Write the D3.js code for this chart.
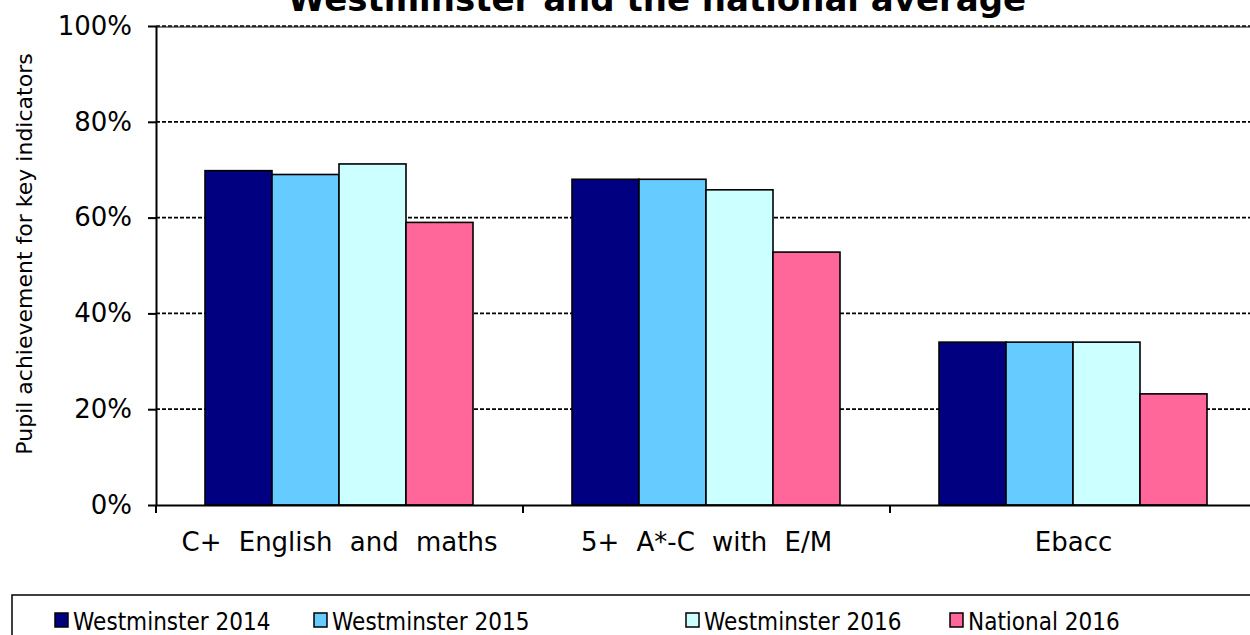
<!DOCTYPE html>
<html>
<head>
<meta charset="utf-8">
<script src="https://cdn.jsdelivr.net/npm/d3@7"></script>
<style>
  body { margin: 0; background: #fff; }
  svg { display: block; font-family: "DejaVu Sans", Verdana, sans-serif; }
</style>
</head>
<body>
<div id="chart"></div>
<script>
var categories = ["C+ English and maths", "5+ A*-C with E/M", "Ebacc"];
var seriesNames = ["Westminster 2014", "Westminster 2015", "Westminster 2016", "National 2016"];
var seriesColors = ["#000080", "#66ccff", "#ccffff", "#ff6699"];
var westminster2014 = [69.8, 68, 34];
var westminster2015 = [69, 68, 34];
var westminster2016 = [71.2, 65.8, 34];
var national2016 = [59, 52.8, 23.2];
var yTicks = [0, 20, 40, 60, 80, 100];

var series = [westminster2014, westminster2015, westminster2016, national2016];

var W = 1250, H = 635;
var margin = {top: 26, left: 156},
    plotW = 367 * 3,
    plotH = 479;

var svg = d3.select("#chart").append("svg")
    .attr("width", W)
    .attr("height", H);

var g = svg.append("g")
    .attr("transform", "translate(" + margin.left + "," + margin.top + ")");

var x0 = d3.scaleBand().domain(categories).range([0, plotW]).padding(0);
var x1 = d3.scaleBand().domain(d3.range(series.length))
    .range([49, x0.bandwidth() - 50]).padding(0);
var y = d3.scaleLinear().domain([0, 100]).range([plotH, 0]);

// title, cut at the top edge like the original
svg.append("text")
    .attr("x", 657)
    .attr("y", 11)
    .attr("text-anchor", "middle")
    .style("font-weight", "bold")
    .style("font-size", "34px")
    .text("Westminster and the national average");

// top border + gridlines
g.append("line")
    .attr("x1", 0).attr("x2", plotW)
    .attr("y1", 1).attr("y2", 1)
    .attr("stroke", "#808080").attr("stroke-width", 2);

g.selectAll(".grid")
    .data(yTicks.filter(function(d) { return d > 0; }))
    .enter().append("line")
    .attr("class", "grid")
    .attr("x1", 0).attr("x2", plotW)
    .attr("y1", function(d) { return y(d); })
    .attr("y2", function(d) { return y(d); })
    .attr("stroke", "#000")
    .attr("stroke-width", 1.7)
    .attr("stroke-dasharray", "4,2");

// bars
var groups = g.selectAll(".grp")
    .data(categories)
    .enter().append("g")
    .attr("class", "grp")
    .attr("transform", function(d) { return "translate(" + x0(d) + ",0)"; });

groups.selectAll("rect")
    .data(function(d, i) {
        return series.map(function(s, k) { return {k: k, value: s[i]}; });
    })
    .enter().append("rect")
    .attr("x", function(d) { return x1(d.k); })
    .attr("y", function(d) { return y(d.value); })
    .attr("width", x1.bandwidth())
    .attr("height", function(d) { return plotH - y(d.value); })
    .attr("fill", function(d) { return seriesColors[d.k]; })
    .attr("stroke", "#000")
    .attr("stroke-width", 1.6);

// y axis
var yAxis = g.append("g")
    .call(d3.axisLeft(y).tickValues(yTicks).tickSize(8).tickSizeOuter(0)
        .tickFormat(function(d) { return d + "%"; }));
yAxis.select(".domain").attr("stroke-width", 2);
yAxis.selectAll(".tick line").attr("stroke-width", 2);
yAxis.selectAll("text")
    .attr("x", -24)
    .style("font-size", "26px")
    .style("font-family", "DejaVu Sans, sans-serif");

// x axis
var xAxis = g.append("g")
    .attr("transform", "translate(0," + plotH + ")")
    .call(d3.axisBottom(x0).tickSize(0).tickSizeOuter(0));
xAxis.select(".domain").attr("stroke-width", 2);
xAxis.selectAll("text")
    .attr("y", 28)
    .style("font-size", "26px")
    .style("word-spacing", "9px")
    .style("font-family", "DejaVu Sans, sans-serif");

// category separator ticks
g.selectAll(".sep")
    .data(d3.range(categories.length + 1))
    .enter().append("line")
    .attr("x1", function(d) { return d * x0.step(); })
    .attr("x2", function(d) { return d * x0.step(); })
    .attr("y1", plotH)
    .attr("y2", plotH + 8)
    .attr("stroke", "#000")
    .attr("stroke-width", 2);

// y label
svg.append("text")
    .attr("transform", "translate(32,254) rotate(-90)")
    .attr("text-anchor", "middle")
    .style("font-size", "22px")
    .text("Pupil achievement for key indicators");

// legend
svg.append("rect")
    .attr("x", 12).attr("y", 595)
    .attr("width", 1260).attr("height", 60)
    .attr("fill", "#fff")
    .attr("stroke", "#000")
    .attr("stroke-width", 1.5);

var legendX = [55, 314, 686, 950];
var leg = svg.selectAll(".leg")
    .data(seriesNames)
    .enter().append("g")
    .attr("class", "leg")
    .attr("transform", function(d, i) { return "translate(" + legendX[i] + ",613)"; });

leg.append("rect")
    .attr("width", 13).attr("height", 14)
    .attr("fill", function(d, i) { return seriesColors[i]; })
    .attr("stroke", "#000")
    .attr("stroke-width", 1.5);

leg.append("text")
    .attr("transform", "translate(18,17) scale(0.9,1)")
    .style("font-size", "24px")
    .text(function(d) { return d; });
</script>
</body>
</html>
